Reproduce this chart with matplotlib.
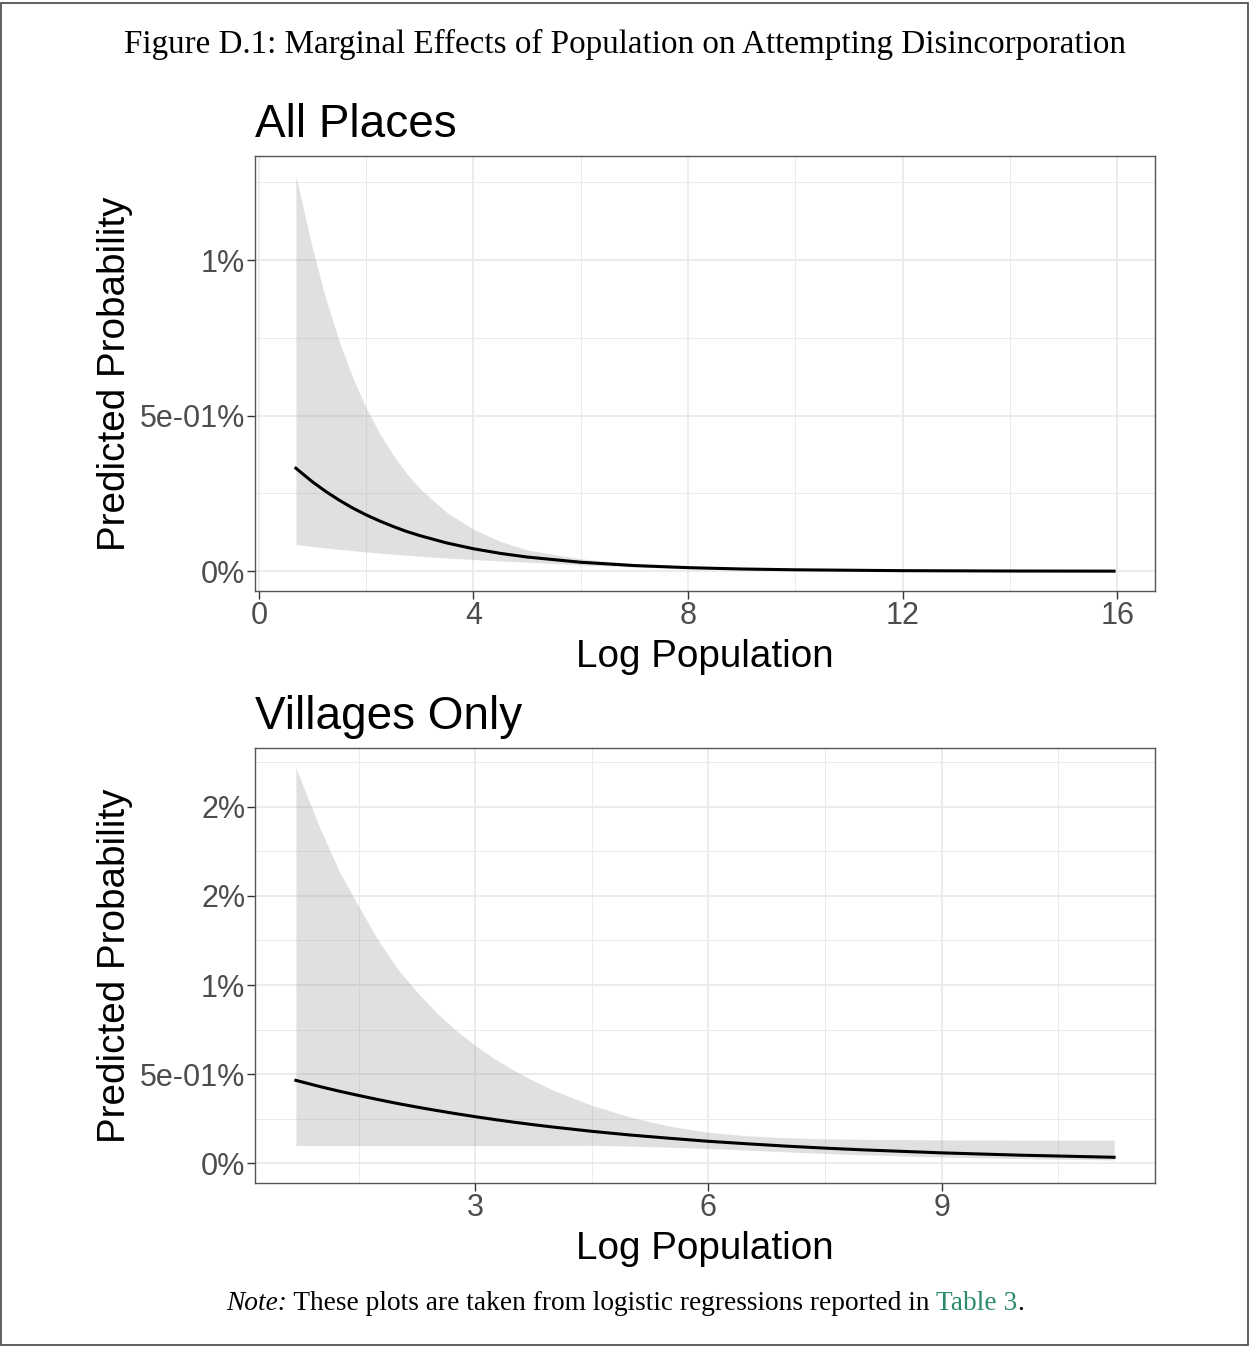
import matplotlib
matplotlib.use("Agg")
import matplotlib.pyplot as plt
from matplotlib.patches import Rectangle

# predicted probability (%) of attempting disincorporation by log population
all_x = [0.69, 1.0, 1.25, 1.5, 1.75, 2.0, 2.25, 2.5, 2.75, 3.0, 3.5, 4.0, 4.5, 5.0,
         6.0, 7.0, 8.0, 9.0, 10.0, 12.0, 14.0, 15.94]
all_fit = [0.331, 0.287, 0.256, 0.228, 0.203, 0.181, 0.1615, 0.144, 0.128, 0.1144, 0.0909,
           0.0722, 0.0574, 0.0456, 0.0288, 0.0182, 0.0115, 0.0072, 0.0046, 0.0018, 0.0007, 0.0003]
all_hi = [1.271, 1.036, 0.874, 0.738, 0.622, 0.525, 0.443, 0.374, 0.315, 0.266, 0.189,
          0.135, 0.096, 0.068, 0.040, 0.024, 0.0155, 0.0102, 0.0068, 0.0030, 0.0013, 0.0006]
all_lo = [0.086, 0.0796, 0.0747, 0.0702, 0.066, 0.062, 0.0582, 0.0547, 0.0514, 0.0483, 0.0426,
          0.0376, 0.0332, 0.0293, 0.020, 0.0135, 0.0085, 0.0053, 0.0033, 0.0012, 0.0004, 0.0001]

vil_x = [0.69, 1.0, 1.25, 1.5, 1.75, 2.0, 2.25, 2.5, 2.75, 3.0, 3.25, 3.5, 3.75, 4.0,
         4.5, 5.0, 5.5, 6.0, 6.5, 7.0, 7.5, 8.0, 9.0, 10.0, 11.22]
vil_fit = [0.465, 0.430, 0.404, 0.380, 0.357, 0.335, 0.315, 0.296, 0.278, 0.261, 0.245, 0.230,
           0.216, 0.203, 0.179, 0.158, 0.140, 0.123, 0.109, 0.096, 0.0847, 0.0748, 0.0582,
           0.0453, 0.0334]
vil_hi = [2.219, 1.879, 1.636, 1.44, 1.25, 1.09, 0.96, 0.845, 0.745, 0.66, 0.585, 0.52,
          0.462, 0.41, 0.325, 0.258, 0.208, 0.173, 0.154, 0.143, 0.137, 0.134, 0.131,
          0.130, 0.130]
vil_lo = [0.099, 0.099, 0.099, 0.099, 0.099, 0.099, 0.099, 0.099, 0.099, 0.099, 0.099, 0.099,
          0.099, 0.099, 0.100, 0.096, 0.090, 0.083, 0.074, 0.064, 0.055, 0.047, 0.035,
          0.026, 0.018]

all_xticks = [0, 4, 8, 12, 16]
all_xminor = [2, 6, 10, 14]
all_yticks = [0, 0.5, 1.0]
all_ylabels = ["0%", "5e-01%", "1%"]
all_yminor = [0.25, 0.75, 1.25]

vil_xticks = [3, 6, 9]
vil_xminor = [1.5, 4.5, 7.5, 10.5]
vil_yticks = [0, 0.5, 1.0, 1.5, 2.0]
vil_ylabels = ["0%", "5e-01%", "1%", "2%", "2%"]
vil_yminor = [0.25, 0.75, 1.25, 1.75, 2.25]

SANS = ["Liberation Sans", "DejaVu Sans"]
SERIF = ["Liberation Serif", "DejaVu Serif"]
W, H = 1250, 1346


def panel(rect_px, title, x, fit, lo, hi, xt, xm, yt, yl, ym):
    l, t, r, b = rect_px
    ax = fig.add_axes([l / W, 1 - b / H, (r - l) / W, (b - t) / H])
    ax.fill_between(x, lo, hi, color="#999999", alpha=0.3, lw=0, zorder=2)
    ax.plot(x, fit, color="black", lw=2.2, zorder=3)

    # ggplot-style 5% expansion, y always includes zero
    xr = max(x) - min(x)
    ax.set_xlim(min(x) - 0.05 * xr, max(x) + 0.05 * xr)
    yr = max(hi)
    ax.set_ylim(-0.05 * yr, 1.05 * yr)

    ax.set_xticks(xt)
    ax.set_xticks(xm, minor=True)
    ax.set_yticks(yt)
    ax.set_yticklabels(yl)
    ax.set_yticks(ym, minor=True)
    ax.grid(which="major", color="#EBEBEB", lw=1.3, zorder=0)
    ax.grid(which="minor", color="#EBEBEB", lw=0.7, zorder=0)
    ax.set_axisbelow(True)
    ax.tick_params(which="major", length=5.5, width=1.0, color="#333333",
                   labelcolor="#4D4D4D", labelsize=22, pad=1.5)
    ax.tick_params(which="minor", length=0)
    for lab in ax.get_xticklabels() + ax.get_yticklabels():
        lab.set_family(SANS)
    for s in ax.spines.values():
        s.set_color("#555555")
        s.set_linewidth(1.0)

    ax.set_xlabel("Log Population", family=SANS, fontsize=27.8, labelpad=6)
    ax.set_ylabel("Predicted Probability", family=SANS, fontsize=27.8)
    ax.yaxis.set_label_coords(-0.136, 0.5)
    ax.set_title(title, loc="left", family=SANS, fontsize=33, pad=14)
    return ax


fig = plt.figure(figsize=(W / 100, H / 100), dpi=100)
fig.patch.set_facecolor("white")
fig.patches.append(Rectangle((1.5 / W, 1.5 / H), 1246 / W, 1342 / H,
                             transform=fig.transFigure, fill=False,
                             edgecolor="#444444", lw=1.2))

fig.text(0.5, 1 - 44 / H, "Figure D.1: Marginal Effects of Population on Attempting Disincorporation",
         ha="center", va="center", family=SERIF, fontsize=23.9)

panel((255, 156, 1155, 591), "All Places", all_x, all_fit, all_lo, all_hi,
      all_xticks, all_xminor, all_yticks, all_ylabels, all_yminor)
panel((255, 748, 1155, 1183), "Villages Only", vil_x, vil_fit, vil_lo, vil_hi,
      vil_xticks, vil_xminor, vil_yticks, vil_ylabels, vil_yminor)

# note line: italic lead, plain body, teal table reference
y_note = 1 - 1303 / H
parts = [("Note:", dict(style="italic")),
         (" These plots are taken from logistic regressions reported in ", {}),
         ("Table 3", dict(color="#2A8A6E")),
         (".", {})]
texts = []
for s, kw in parts:
    texts.append(fig.text(0, y_note, s, va="center", ha="left", family=SERIF,
                          fontsize=19.7, **kw))
rend = fig.canvas.get_renderer()
widths = [t.get_window_extent(rend).width for t in texts]
x0 = (W - sum(widths)) / 2
for t, w in zip(texts, widths):
    t.set_x(x0 / W)
    x0 += w

fig.savefig("out.png", dpi=100)
